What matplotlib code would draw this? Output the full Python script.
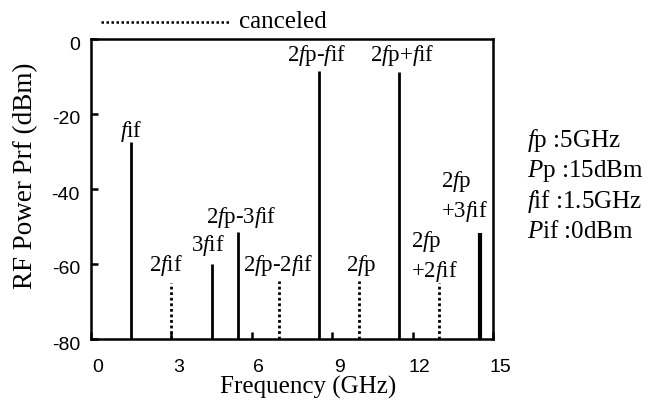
import matplotlib
matplotlib.use("Agg")
import matplotlib.pyplot as plt
import matplotlib.transforms as mtransforms

plt.rcParams['font.family'] = 'Liberation Serif'
plt.rcParams['mathtext.fontset'] = 'custom'
plt.rcParams['mathtext.rm'] = 'Liberation Serif'
plt.rcParams['mathtext.it'] = 'Liberation Serif:italic'

# spectral lines: frequency (GHz), power (dBm), canceled or not
freqs = [1.5, 3.0, 4.5, 5.5, 7.0, 8.5, 10.0, 11.5, 13.0, 14.5]
powers = [-27.5, -65, -60, -51.5, -64.5, -8.5, -64.5, -8.8, -65, -51.7]
canceled = [False, True, False, False, True, False, True, False, True, False]
names = ['$f$if', '2$f$if', '3$f$if', '2$f$p-3$f$if', '2$f$p-2$f$if',
         '2$f$p-$f$if', '2$f$p', '2$f$p+$f$if', '2$f$p\n+2$f$if', '2$f$p\n+3$f$if']
# label anchor (x in GHz, y in dBm of baseline)
label_x = [1.5, 2.8, 4.35, 5.6, 7.0, 8.4, 10.1, 11.6, 11.93, 13.05]
label_y = [-26.0, -61.9, -56.5, -49.0, -61.9, -6.0, -61.9, -6.0, -63.5, -47.5]
label_ha = ['center'] * 8 + ['left', 'left']

params = ['$f$p :5GHz', '$P$p :15dBm', '$f$if :1.5GHz', '$P$if :0dBm']

xticks = [0, 3, 6, 9, 12, 15]
yticks = [0, -20, -40, -60, -80]

fig = plt.figure(figsize=(6.59, 4.03), dpi=100)
ax = fig.add_axes([91 / 659, 1 - 339 / 403, 402 / 659, 300 / 403])

for f, p, c in zip(freqs, powers, canceled):
    if c:
        ax.vlines(f, -80, p, colors='black', linestyles=(0, (1, 1)), lw=2)
    else:
        ax.vlines(f, -80, p, colors='black', lw=3 if f > 14 else 2)

for n, lx, ly, ha in zip(names, label_x, label_y, label_ha):
    ax.text(lx, ly, n, ha=ha, va='baseline', fontsize=16.5, linespacing=1.3)

ax.set_xlim(0, 15)
ax.set_ylim(-80, 0)
ax.set_xticks(xticks)
ax.set_yticks(yticks)
ax.set_xticklabels([str(t) for t in xticks], family='Liberation Sans', fontsize=14)
ax.set_yticklabels([str(t) for t in yticks], family='Liberation Sans', fontsize=14)
ax.tick_params(direction='in', length=5, width=1.8, top=False, right=False)
ax.tick_params(axis='x', pad=14.5)
ax.tick_params(axis='y', pad=8)
for s in ax.spines.values():
    s.set_linewidth(1.8)

off_x = mtransforms.ScaledTranslation(0.07, 0, fig.dpi_scale_trans)
for lab in ax.get_xticklabels():
    lab.set_transform(lab.get_transform() + off_x)
off_y = mtransforms.ScaledTranslation(0, -0.04, fig.dpi_scale_trans)
for lab in ax.get_yticklabels():
    lab.set_transform(lab.get_transform() + off_y)

ax.set_xlabel('Frequency (GHz)', fontsize=18)
ax.set_ylabel('RF Power Prf (dBm)', fontsize=19.5)
ax.xaxis.set_label_coords((308 - 91) / 402, -(394 - 339) / 300)
ax.xaxis.label.set_va('baseline')
ax.yaxis.set_label_coords(-(91 - 26) / 402, (339 - 176) / 300)
ax.yaxis.label.set_va('center')

# legend for canceled lines
fig.add_artist(plt.Line2D([101 / 659, 229 / 659], [1 - 22 / 403, 1 - 22 / 403],
                          color='black', lw=1.8, ls=(0, (1, 1))))
fig.text(239 / 659, 1 - 28 / 403, 'canceled', fontsize=18, va='baseline')

for i, t in enumerate(params):
    fig.text(527 / 659, 1 - (147 + 30.5 * i) / 403, t, fontsize=18, va='baseline')

fig.savefig('out.png', dpi=100)
